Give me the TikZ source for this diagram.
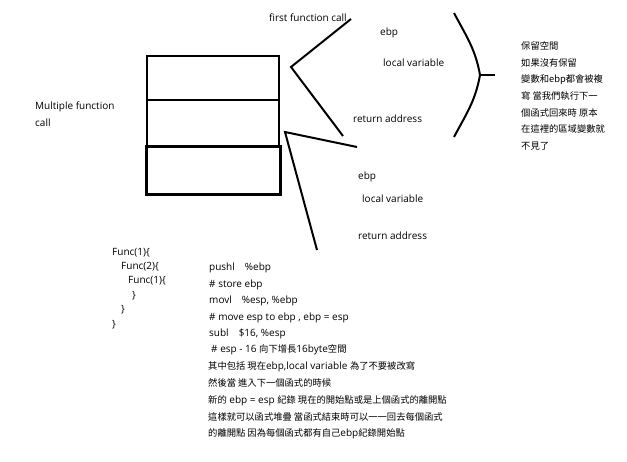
\documentclass[tikz,border=0pt]{standalone}
\usepackage{fontspec}
\setmainfont{Open Sans}
\newfontfamily\cjk{Noto Sans CJK TC}
\newcommand{\zh}[1]{{\cjk\fontsize{9.3}{10}\selectfont #1}}
\begin{document}
\begin{tikzpicture}[x=1pt,y=-1pt,
  lbl/.style={anchor=base west, inner sep=0pt, font=\fontsize{10}{11}\selectfont},
  stackbox/.style={draw, line width=2pt, minimum width=132pt, minimum height=45pt, inner sep=0pt},
  wedge/.style={line width=2pt, line join=miter}]
\useasboundingbox (0,0) rectangle (627,461);
\fill[white] (0,0) rectangle (627,461);
% stack boxes
\node[stackbox, minimum height=44pt] (b1) at (213,78) {};
\node[stackbox, minimum height=46pt] (b2) at (213,123) {};
\node[stackbox, line width=3pt, minimum width=134pt, minimum height=48pt] (b3) at (213,170) {};
% labels
\node[lbl] (ffc) at (269,21) {first function call};
\node[lbl] (ebp1) at (380,35) {ebp};
\node[lbl] (lv1) at (383,66) {local variable};
\node[lbl] (ra1) at (353,122) {return address};
\node[lbl] (ebp2) at (358,179) {ebp};
\node[lbl] (lv2) at (362,202) {local variable};
\node[lbl] (ra2) at (358,239) {return address};
\node[lbl] (mfc1) at (35,109) {Multiple function};
\node[lbl] (mfc2) at (35,126) {call};
% wedges
\coordinate (w1a) at (351,19);
\coordinate (w1v) at (291,67);
\coordinate (w1b) at (343,136);
\draw[wedge] (w1a) -- (w1v) -- (w1b);
\coordinate (w2a) at (357,147);
\coordinate (w2v) at (285,132);
\coordinate (w2b) at (317,250);
\draw[wedge] (w2a) -- (w2v) -- (w2b);
% brace
\coordinate (brt) at (454,13);
\coordinate (brm) at (480,75);
\coordinate (brb) at (454,137);
\coordinate (brtick) at (495,75);
\draw[line width=2pt] (brt) to[out=-62,in=100] (brm) to[out=-100,in=62] (brb);
\draw[line width=2pt] (brm) -- (brtick);
% chinese note
\node[lbl] (n1) at (521,49) {\zh{保留空間}};
\node[lbl] (n2) at (521,66) {\zh{如果沒有保留}};
\node[lbl] (n3) at (521,82) {\zh{變數和ebp都會被複}};
\node[lbl] (n4) at (521,99) {\zh{寫 當我們執行下一}};
\node[lbl] (n5) at (521,116) {\zh{個函式回來時 原本}};
\node[lbl] (n6) at (521,132) {\zh{在這裡的區域變數就}};
\node[lbl] (n7) at (521,149) {\zh{不見了}};
% code
\node[lbl] (c1) at (112,255) {Func(1)\{};
\node[lbl] (c2) at (121,269) {Func(2)\{};
\node[lbl] (c3) at (128,283) {Func(1)\{};
\node[lbl] (c4) at (132,298) {\}};
\node[lbl] (c5) at (121,312) {\}};
\node[lbl] (c6) at (112,327) {\}};
\node[lbl] (a1) at (209,270) {pushl\quad\%ebp};
\node[lbl] (a2) at (209,287) {\# store ebp};
\node[lbl] (a3) at (209,303) {movl\quad\%esp, \%ebp};
\node[lbl] (a4) at (209,320) {\# move esp to ebp , ebp = esp};
\node[lbl] (a5) at (209,336) {subl\quad\$16, \%esp};
\node[lbl] (a6) at (211,352) {\# esp - 16 \zh{向下增長}16byte\zh{空間}};
\node[lbl] (a7) at (208,369) {\zh{其中包括 現在}ebp,local variable \zh{為了不要被改寫}};
\node[lbl] (a8) at (208,386) {\zh{然後當 進入下一個函式的時候}};
\node[lbl] (a9) at (208,403) {\zh{新的} ebp = esp \zh{紀錄 現在的開始點或是上個函式的離開點}};
\node[lbl] (a10) at (208,420) {\zh{這樣就可以函式堆疊 當函式結束時可以一一回去每個函式}};
\node[lbl] (a11) at (208,436) {\zh{的離開點 因為每個函式都有自己}ebp\zh{紀錄開始點}};
\end{tikzpicture}
\end{document}
